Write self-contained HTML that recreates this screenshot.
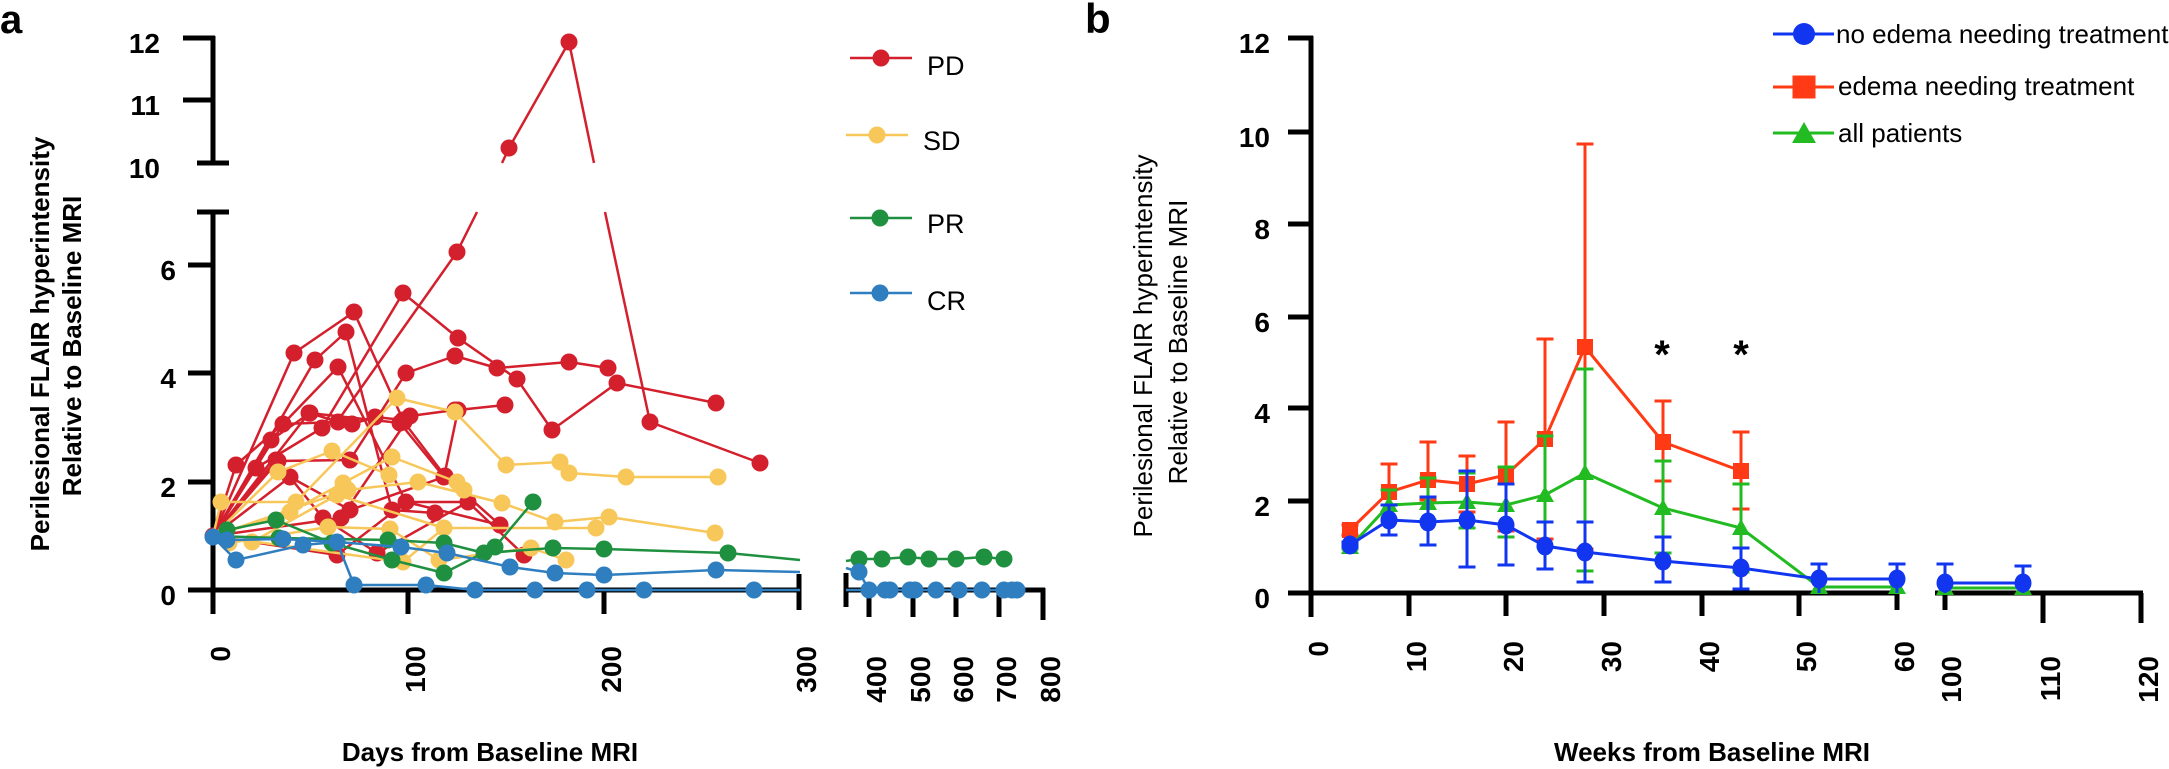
<!DOCTYPE html>
<html><head><meta charset="utf-8"><style>
html,body{margin:0;padding:0;background:#fff;}
svg{display:block;}
text{font-family:"Liberation Sans",Arial,sans-serif;}
</style></head><body>
<svg width="2169" height="769" viewBox="0 0 2169 769" xmlns="http://www.w3.org/2000/svg">
<rect width="2169" height="769" fill="#fff"/>

<!-- ============ PANEL A ============ -->
<text x="0" y="33" font-size="40" font-weight="bold">a</text>

<!-- y axis label a -->
<text transform="translate(49,344) rotate(-90)" text-anchor="middle" font-size="26" font-weight="bold">Perilesional FLAIR hyperintensity</text>
<text transform="translate(81,346) rotate(-90)" text-anchor="middle" font-size="26" font-weight="bold">Relative to Baseline MRI</text>

<!-- axes a -->
<g stroke="#000" stroke-width="5" fill="none">
  <line x1="213" y1="36" x2="213" y2="165"/>
  <line x1="183" y1="38" x2="215" y2="38"/>
  <line x1="183" y1="100" x2="213" y2="100"/>
  <line x1="197" y1="163" x2="229" y2="163"/>
  <line x1="213" y1="210" x2="213" y2="614"/>
  <line x1="197" y1="212" x2="229" y2="212"/>
  <line x1="188" y1="265" x2="213" y2="265"/>
  <line x1="188" y1="373" x2="213" y2="373"/>
  <line x1="188" y1="482" x2="213" y2="482"/>
  <line x1="188" y1="590" x2="801" y2="590"/>
  <line x1="408" y1="590" x2="408" y2="614"/>
  <line x1="604" y1="590" x2="604" y2="614"/>
  <line x1="799" y1="574" x2="799" y2="610"/>
  <line x1="846" y1="590" x2="1045" y2="590"/>
  <line x1="846" y1="573" x2="846" y2="607"/>
  <line x1="869" y1="590" x2="869" y2="617"/>
  <line x1="913" y1="590" x2="913" y2="617"/>
  <line x1="956" y1="590" x2="956" y2="617"/>
  <line x1="999" y1="590" x2="999" y2="617"/>
  <line x1="1043" y1="588" x2="1043" y2="620"/>
</g>
<g font-size="28" font-weight="bold" text-anchor="end">
  <text x="160" y="53">12</text>
  <text x="160" y="115">11</text>
  <text x="160" y="178">10</text>
  <text x="176" y="280">6</text>
  <text x="176" y="388">4</text>
  <text x="176" y="497">2</text>
  <text x="176" y="605">0</text>
</g>
<g font-size="28" font-weight="bold" text-anchor="end">
  <text transform="translate(230,646) rotate(-90)">0</text>
  <text transform="translate(425,646) rotate(-90)">100</text>
  <text transform="translate(621,646) rotate(-90)">200</text>
  <text transform="translate(816,646) rotate(-90)">300</text>
  <text transform="translate(886,656) rotate(-90)">400</text>
  <text transform="translate(930,656) rotate(-90)">500</text>
  <text transform="translate(973,656) rotate(-90)">600</text>
  <text transform="translate(1016,656) rotate(-90)">700</text>
  <text transform="translate(1060,656) rotate(-90)">800</text>
</g>
<text x="490" y="761" text-anchor="middle" font-size="26" font-weight="bold">Days from Baseline MRI</text>

<!-- red PD lines -->
<g stroke="#d41f2d" stroke-width="2.5" fill="none" stroke-linejoin="round">
  <polyline points="213,536 294,353 354,312 404,422 445,476 500,525"/>
  <polyline points="213,536 315,360 346,332 392,510 435,513"/>
  <polyline points="213,536 236,465 283,424 338,367 406,502 468,502"/>
  <polyline points="213,536 256,468 322,428 403,293 458,338 517,379 552,430 617,383 716,403"/>
  <polyline points="213,536 271,440 310,413 338,422 352,424 375,417 403,420"/>
  <polyline points="213,536 278,461 350,460 406,373 455,356 497,368 569,362 608,368"/>
  <polyline points="213,536 283,424 337,422 457,252 477,212"/>
  <polyline points="502,163 509,148 569,42 594,163"/>
  <polyline points="605,212 650,422 760,463"/>
  <polyline points="213,536 290,477 350,510 444,477 458,410 505,405"/>
  <polyline points="213,536 276,460 323,518 377,553 468,502 524,555"/>
  <polyline points="213,536 341,518 410,416 455,410"/>
  <polyline points="213,536 309,413 400,423 444,477"/>
  <polyline points="213,536 337,555 406,502 500,525"/>
</g>
<g fill="#d41f2d">
  <circle cx="294" cy="353" r="8.5"/><circle cx="354" cy="312" r="8.5"/><circle cx="404" cy="422" r="8.5"/><circle cx="445" cy="476" r="8.5"/><circle cx="500" cy="525" r="8.5"/>
  <circle cx="315" cy="360" r="8.5"/><circle cx="346" cy="332" r="8.5"/><circle cx="392" cy="510" r="8.5"/><circle cx="435" cy="513" r="8.5"/>
  <circle cx="236" cy="465" r="8.5"/><circle cx="283" cy="424" r="8.5"/><circle cx="338" cy="367" r="8.5"/><circle cx="406" cy="502" r="8.5"/><circle cx="468" cy="502" r="8.5"/>
  <circle cx="256" cy="468" r="8.5"/><circle cx="322" cy="428" r="8.5"/><circle cx="403" cy="293" r="8.5"/><circle cx="458" cy="338" r="8.5"/><circle cx="517" cy="379" r="8.5"/><circle cx="552" cy="430" r="8.5"/><circle cx="617" cy="383" r="8.5"/><circle cx="716" cy="403" r="8.5"/>
  <circle cx="271" cy="440" r="8.5"/><circle cx="310" cy="413" r="8.5"/><circle cx="338" cy="422" r="8.5"/><circle cx="352" cy="424" r="8.5"/><circle cx="375" cy="417" r="8.5"/><circle cx="403" cy="420" r="8.5"/>
  <circle cx="278" cy="461" r="8.5"/><circle cx="350" cy="460" r="8.5"/><circle cx="406" cy="373" r="8.5"/><circle cx="455" cy="356" r="8.5"/><circle cx="497" cy="368" r="8.5"/><circle cx="569" cy="362" r="8.5"/><circle cx="608" cy="368" r="8.5"/>
  <circle cx="457" cy="252" r="8.5"/><circle cx="509" cy="148" r="8.5"/><circle cx="569" cy="42" r="8.5"/><circle cx="650" cy="422" r="8.5"/><circle cx="760" cy="463" r="8.5"/>
  <circle cx="290" cy="477" r="8.5"/><circle cx="350" cy="510" r="8.5"/><circle cx="444" cy="477" r="8.5"/><circle cx="458" cy="410" r="8.5"/><circle cx="505" cy="405" r="8.5"/>
  <circle cx="276" cy="460" r="8.5"/><circle cx="323" cy="518" r="8.5"/><circle cx="377" cy="553" r="8.5"/><circle cx="524" cy="555" r="8.5"/>
  <circle cx="341" cy="518" r="8.5"/><circle cx="410" cy="416" r="8.5"/><circle cx="455" cy="410" r="8.5"/><circle cx="309" cy="413" r="8.5"/><circle cx="400" cy="423" r="8.5"/><circle cx="337" cy="555" r="8.5"/>
  <circle cx="213" cy="536" r="8.5"/>
</g>

<!-- yellow SD -->
<g stroke="#f8c75a" stroke-width="2.5" fill="none" stroke-linejoin="round">
  <polyline points="213,536 221,502 296,502 397,398 455,412 506,465 560,462 569,473 626,477 718,477"/>
  <polyline points="213,536 278,472 332,451 389,475"/>
  <polyline points="213,536 290,512 343,483 392,457 457,482 464,490"/>
  <polyline points="213,536 348,490 418,482 502,503 555,522 609,517 715,533"/>
  <polyline points="213,536 252,542 337,495 444,528 596,528"/>
  <polyline points="213,536 229,543 328,527 390,529 439,560 531,548 566,560"/>
  <polyline points="213,536 403,562 444,528"/>
</g>
<g fill="#f8c75a">
  <circle cx="221" cy="502" r="8.5"/><circle cx="296" cy="502" r="8.5"/><circle cx="397" cy="398" r="8.5"/><circle cx="455" cy="412" r="8.5"/><circle cx="506" cy="465" r="8.5"/><circle cx="560" cy="462" r="8.5"/><circle cx="569" cy="473" r="8.5"/><circle cx="626" cy="477" r="8.5"/><circle cx="718" cy="477" r="8.5"/>
  <circle cx="278" cy="472" r="8.5"/><circle cx="332" cy="451" r="8.5"/><circle cx="389" cy="475" r="8.5"/>
  <circle cx="290" cy="512" r="8.5"/><circle cx="343" cy="483" r="8.5"/><circle cx="392" cy="457" r="8.5"/><circle cx="457" cy="482" r="8.5"/><circle cx="464" cy="490" r="8.5"/>
  <circle cx="348" cy="490" r="8.5"/><circle cx="418" cy="482" r="8.5"/><circle cx="502" cy="503" r="8.5"/><circle cx="555" cy="522" r="8.5"/><circle cx="609" cy="517" r="8.5"/><circle cx="715" cy="533" r="8.5"/>
  <circle cx="252" cy="542" r="8.5"/><circle cx="337" cy="495" r="8.5"/><circle cx="444" cy="528" r="8.5"/><circle cx="596" cy="528" r="8.5"/>
  <circle cx="229" cy="543" r="8.5"/><circle cx="328" cy="527" r="8.5"/><circle cx="390" cy="529" r="8.5"/><circle cx="439" cy="560" r="8.5"/><circle cx="531" cy="548" r="8.5"/><circle cx="566" cy="560" r="8.5"/>
  <circle cx="403" cy="562" r="8.5"/>
</g>

<!-- green PR -->
<g stroke="#1f9040" stroke-width="2.5" fill="none" stroke-linejoin="round">
  <polyline points="213,536 227,530 276,520 332,543 392,560 444,573 495,547 533,502"/>
  <polyline points="213,536 279,538 388,540 444,543 484,553 553,548 604,549 728,553 800,560"/>
  <polyline points="846,561 859,559 882,559 908,557 929,559 956,559 984,557 1004,559"/>
</g>
<g fill="#1f9040">
  <circle cx="227" cy="530" r="8.5"/><circle cx="276" cy="520" r="8.5"/><circle cx="332" cy="543" r="8.5"/><circle cx="392" cy="560" r="8.5"/><circle cx="444" cy="573" r="8.5"/><circle cx="495" cy="547" r="8.5"/><circle cx="533" cy="502" r="8.5"/>
  <circle cx="279" cy="538" r="8.5"/><circle cx="388" cy="540" r="8.5"/><circle cx="444" cy="543" r="8.5"/><circle cx="484" cy="553" r="8.5"/><circle cx="553" cy="548" r="8.5"/><circle cx="604" cy="549" r="8.5"/><circle cx="728" cy="553" r="8.5"/>
  <circle cx="859" cy="559" r="8.5"/><circle cx="882" cy="559" r="8.5"/><circle cx="908" cy="557" r="8.5"/><circle cx="929" cy="559" r="8.5"/><circle cx="956" cy="559" r="8.5"/><circle cx="984" cy="557" r="8.5"/><circle cx="1004" cy="559" r="8.5"/>
</g>

<!-- blue CR -->
<g stroke="#2e7ec0" stroke-width="2.5" fill="none" stroke-linejoin="round">
  <polyline points="213,537 236,560 303,545 337,542 354,585 426,585 475,590 535,590 587,590 644,590 754,590 800,590"/>
  <polyline points="213,537 227,540 283,539 337,542 401,547 447,553 510,567 555,573 604,575 716,570 800,572"/>
  <polyline points="846,568 859,572 869,590 1020,590"/>
  <polyline points="846,590 869,590"/>
</g>
<g fill="#2e7ec0">
  <circle cx="213" cy="537" r="8.5"/><circle cx="236" cy="560" r="8.5"/><circle cx="303" cy="545" r="8.5"/><circle cx="337" cy="542" r="8.5"/><circle cx="354" cy="585" r="8.5"/><circle cx="426" cy="585" r="8.5"/><circle cx="475" cy="590" r="8.5"/><circle cx="535" cy="590" r="8.5"/><circle cx="587" cy="590" r="8.5"/><circle cx="644" cy="590" r="8.5"/><circle cx="754" cy="590" r="8.5"/>
  <circle cx="227" cy="540" r="8.5"/><circle cx="283" cy="539" r="8.5"/><circle cx="401" cy="547" r="8.5"/><circle cx="447" cy="553" r="8.5"/><circle cx="510" cy="567" r="8.5"/><circle cx="555" cy="573" r="8.5"/><circle cx="604" cy="575" r="8.5"/><circle cx="716" cy="570" r="8.5"/>
  <circle cx="859" cy="572" r="8.5"/><circle cx="869" cy="590" r="8.5"/><circle cx="885" cy="590" r="8.5"/><circle cx="890" cy="590" r="8.5"/><circle cx="910" cy="590" r="8.5"/><circle cx="915" cy="590" r="8.5"/><circle cx="936" cy="590" r="8.5"/><circle cx="959" cy="590" r="8.5"/><circle cx="982" cy="590" r="8.5"/><circle cx="1004" cy="590" r="8.5"/><circle cx="1012" cy="590" r="8.5"/><circle cx="1017" cy="590" r="8.5"/>
</g>

<!-- legend a -->
<g stroke-width="2.5">
  <line x1="850" y1="58" x2="912" y2="58" stroke="#d41f2d"/>
  <line x1="846" y1="135" x2="908" y2="135" stroke="#f8c75a"/>
  <line x1="850" y1="218" x2="912" y2="218" stroke="#1f9040"/>
  <line x1="850" y1="293" x2="912" y2="293" stroke="#2e7ec0"/>
</g>
<circle cx="881" cy="58" r="8.5" fill="#d41f2d"/>
<circle cx="877" cy="135" r="8.5" fill="#f8c75a"/>
<circle cx="880" cy="218" r="8.5" fill="#1f9040"/>
<circle cx="880" cy="293" r="8.5" fill="#2e7ec0"/>
<g font-size="27">
  <text x="927" y="75">PD</text>
  <text x="923" y="150">SD</text>
  <text x="927" y="233">PR</text>
  <text x="927" y="310">CR</text>
</g>

<!-- ============ PANEL B ============ -->
<text x="1085" y="33" font-size="42" font-weight="bold">b</text>

<text transform="translate(1152,346) rotate(-90)" text-anchor="middle" font-size="26">Perilesional FLAIR hyperintensity</text>
<text transform="translate(1187,342) rotate(-90)" text-anchor="middle" font-size="26">Relative to Baseline MRI</text>

<g stroke="#000" stroke-width="5" fill="none">
  <line x1="1311" y1="36" x2="1311" y2="617"/>
  <line x1="1288" y1="38" x2="1313" y2="38"/>
  <line x1="1288" y1="132" x2="1311" y2="132"/>
  <line x1="1288" y1="224" x2="1311" y2="224"/>
  <line x1="1288" y1="317" x2="1311" y2="317"/>
  <line x1="1288" y1="408" x2="1311" y2="408"/>
  <line x1="1288" y1="501" x2="1311" y2="501"/>
  <line x1="1288" y1="593" x2="1899" y2="593"/>
  <line x1="1409" y1="593" x2="1409" y2="616"/>
  <line x1="1506" y1="593" x2="1506" y2="616"/>
  <line x1="1604" y1="593" x2="1604" y2="616"/>
  <line x1="1702" y1="593" x2="1702" y2="616"/>
  <line x1="1799" y1="593" x2="1799" y2="616"/>
  <line x1="1897" y1="593" x2="1897" y2="610"/>
  <line x1="1935" y1="593" x2="2143" y2="593"/>
  <line x1="1945" y1="593" x2="1945" y2="610"/>
  <line x1="2043" y1="593" x2="2043" y2="623"/>
  <line x1="2141" y1="593" x2="2141" y2="623"/>
</g>
<g font-size="28" font-weight="bold" text-anchor="end">
  <text x="1270" y="53">12</text>
  <text x="1270" y="147">10</text>
  <text x="1270" y="239">8</text>
  <text x="1270" y="332">6</text>
  <text x="1270" y="423">4</text>
  <text x="1270" y="516">2</text>
  <text x="1270" y="608">0</text>
</g>
<g font-size="28" font-weight="bold" text-anchor="end">
  <text transform="translate(1328,641) rotate(-90)">0</text>
  <text transform="translate(1426,641) rotate(-90)">10</text>
  <text transform="translate(1523,641) rotate(-90)">20</text>
  <text transform="translate(1621,641) rotate(-90)">30</text>
  <text transform="translate(1719,641) rotate(-90)">40</text>
  <text transform="translate(1816,641) rotate(-90)">50</text>
  <text transform="translate(1914,641) rotate(-90)">60</text>
  <text transform="translate(1961,656) rotate(-90)">100</text>
  <text transform="translate(2060,656) rotate(-90)">110</text>
  <text transform="translate(2158,656) rotate(-90)">120</text>
</g>
<text x="1712" y="761" text-anchor="middle" font-size="26" font-weight="bold">Weeks from Baseline MRI</text>

<!-- red series b -->
<g stroke="#ff3a14" stroke-width="3" fill="none">
  <path d="M1350,525V535M1341.5,525H1358.5M1341.5,535H1358.5"/>
  <path d="M1389,464V519M1380.5,464H1397.5M1380.5,519H1397.5"/>
  <path d="M1428,442V500M1419.5,442H1436.5M1419.5,500H1436.5"/>
  <path d="M1467,456V512M1458.5,456H1475.5M1458.5,512H1475.5"/>
  <path d="M1506,422V531M1497.5,422H1514.5M1497.5,531H1514.5"/>
  <path d="M1545,339V539M1536.5,339H1553.5M1536.5,539H1553.5"/>
  <path d="M1585,144V549M1576.5,144H1593.5M1576.5,549H1593.5"/>
  <path d="M1663,401V481M1654.5,401H1671.5M1654.5,481H1671.5"/>
  <path d="M1741,432V509M1732.5,432H1749.5M1732.5,509H1749.5"/>
  <polyline points="1350,530 1389,492 1428,480 1467,484 1506,475 1545,439 1585,347 1663,442 1741,471"/>
</g>
<g fill="#ff3a14">
  <rect x="1342" y="522" width="16" height="16"/>
  <rect x="1381" y="484" width="16" height="16"/>
  <rect x="1420" y="472" width="16" height="16"/>
  <rect x="1459" y="476" width="16" height="16"/>
  <rect x="1498" y="467" width="16" height="16"/>
  <rect x="1537" y="431" width="16" height="16"/>
  <rect x="1577" y="339" width="16" height="16"/>
  <rect x="1655" y="434" width="16" height="16"/>
  <rect x="1733" y="463" width="16" height="16"/>
</g>

<!-- green series b -->
<g stroke="#22bb22" stroke-width="3" fill="none">
  <path d="M1350,544V549M1341.5,544H1358.5M1341.5,549H1358.5"/>
  <path d="M1389,490V520M1380.5,490H1397.5M1380.5,520H1397.5"/>
  <path d="M1428,478V520M1419.5,478H1436.5M1419.5,520H1436.5"/>
  <path d="M1467,473V528M1458.5,473H1475.5M1458.5,528H1475.5"/>
  <path d="M1506,467V537M1497.5,467H1514.5M1497.5,537H1514.5"/>
  <path d="M1545,436V547M1536.5,436H1553.5M1536.5,547H1553.5"/>
  <path d="M1585,369V571M1576.5,369H1593.5M1576.5,571H1593.5"/>
  <path d="M1663,461V553M1654.5,461H1671.5M1654.5,553H1671.5"/>
  <path d="M1741,484V572M1732.5,484H1749.5M1732.5,572H1749.5"/>
  <polyline points="1350,547 1389,505 1428,503 1467,502 1506,505 1545,495 1585,473 1663,508 1741,528 1819,587 1897,587"/>
  <polyline points="1945,588 2023,588"/>
</g>
<g fill="#22bb22">
  <polygon points="1350,538 1341,554 1359,554"/>
  <polygon points="1389,496 1380,512 1398,512"/>
  <polygon points="1428,494 1419,510 1437,510"/>
  <polygon points="1467,493 1458,509 1476,509"/>
  <polygon points="1506,496 1497,512 1515,512"/>
  <polygon points="1545,486 1536,502 1554,502"/>
  <polygon points="1585,464 1576,480 1594,480"/>
  <polygon points="1663,499 1654,515 1672,515"/>
  <polygon points="1741,519 1732,535 1750,535"/>
  <polygon points="1819,578 1810,594 1828,594"/>
  <polygon points="1897,578 1888,594 1906,594"/>
  <polygon points="1945,579 1936,595 1954,595"/>
  <polygon points="2023,579 2014,595 2032,595"/>
</g>

<!-- blue series b -->
<g stroke="#1236f0" stroke-width="3" fill="none">
  <path d="M1350,542V547M1341.5,542H1358.5M1341.5,547H1358.5"/>
  <path d="M1389,505V535M1380.5,505H1397.5M1380.5,535H1397.5"/>
  <path d="M1428,497V545M1419.5,497H1436.5M1419.5,545H1436.5"/>
  <path d="M1467,471V567M1458.5,471H1475.5M1458.5,567H1475.5"/>
  <path d="M1506,484V565M1497.5,484H1514.5M1497.5,565H1514.5"/>
  <path d="M1545,522V569M1536.5,522H1553.5M1536.5,569H1553.5"/>
  <path d="M1585,522V582M1576.5,522H1593.5M1576.5,582H1593.5"/>
  <path d="M1663,537V582M1654.5,537H1671.5M1654.5,582H1671.5"/>
  <path d="M1741,548V589M1732.5,548H1749.5M1732.5,589H1749.5"/>
  <path d="M1819,564V593M1810.5,564H1827.5"/>
  <path d="M1897,564V593M1888.5,564H1905.5"/>
  <path d="M1945,564V593M1936.5,564H1953.5"/>
  <path d="M2023,566V593M2014.5,566H2031.5"/>
  <polyline points="1350,545 1389,520 1428,522 1467,520 1506,525 1545,546 1585,552 1663,561 1741,568 1819,579 1897,579"/>
  <polyline points="1945,583 2023,583"/>
</g>
<g fill="#1236f0">
  <ellipse cx="1350" cy="545" rx="8.5" ry="9.5"/>
  <ellipse cx="1389" cy="520" rx="8.5" ry="9.5"/>
  <ellipse cx="1428" cy="522" rx="8.5" ry="9.5"/>
  <ellipse cx="1467" cy="520" rx="8.5" ry="9.5"/>
  <ellipse cx="1506" cy="525" rx="8.5" ry="9.5"/>
  <ellipse cx="1545" cy="546" rx="8.5" ry="9.5"/>
  <ellipse cx="1585" cy="552" rx="8.5" ry="9.5"/>
  <ellipse cx="1663" cy="561" rx="8.5" ry="9.5"/>
  <ellipse cx="1741" cy="568" rx="8.5" ry="9.5"/>
  <ellipse cx="1819" cy="579" rx="8.5" ry="9.5"/>
  <ellipse cx="1897" cy="579" rx="8.5" ry="9.5"/>
  <ellipse cx="1945" cy="583" rx="8.5" ry="9.5"/>
  <ellipse cx="2023" cy="583" rx="8.5" ry="9.5"/>
</g>

<!-- asterisks -->
<text x="1662" y="368" text-anchor="middle" font-size="40" font-weight="bold">*</text>
<text x="1741" y="368" text-anchor="middle" font-size="40" font-weight="bold">*</text>

<!-- legend b -->
<line x1="1773" y1="34" x2="1834" y2="34" stroke="#1236f0" stroke-width="3"/>
<circle cx="1804" cy="34" r="11" fill="#1236f0"/>
<line x1="1773" y1="87" x2="1834" y2="87" stroke="#ff3a14" stroke-width="3"/>
<rect x="1792.5" y="75.5" width="23" height="23" fill="#ff3a14"/>
<line x1="1773" y1="133" x2="1834" y2="133" stroke="#22bb22" stroke-width="3"/>
<polygon points="1804,122 1792,143 1816,143" fill="#22bb22"/>
<g font-size="26">
  <text x="1836" y="43">no edema needing treatment</text>
  <text x="1838" y="95">edema needing treatment</text>
  <text x="1838" y="142">all patients</text>
</g>
</svg>
</body></html>
